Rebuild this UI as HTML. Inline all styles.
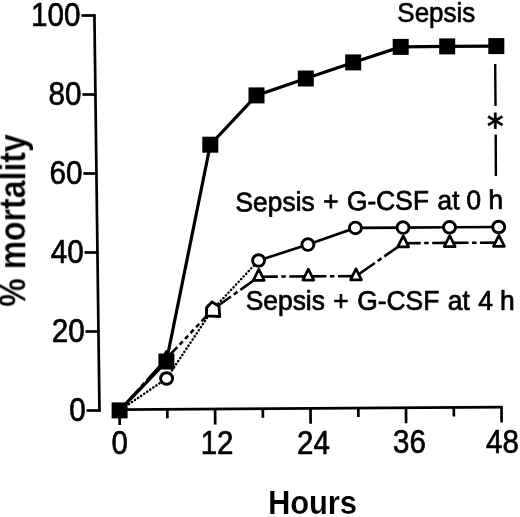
<!DOCTYPE html>
<html><head><meta charset="utf-8"><title>Mortality chart</title>
<style>html,body{margin:0;padding:0;background:#fff}svg{display:block}text{font-family:"Liberation Sans",sans-serif;fill:#000}</style></head><body>
<svg width="520" height="517" viewBox="0 0 520 517">
<defs><filter id="soft" x="0" y="0" width="520" height="517" filterUnits="userSpaceOnUse"><feGaussianBlur stdDeviation="0.5"/></filter></defs>
<rect width="520" height="517" fill="#fff"/>
<g filter="url(#soft)">
<g stroke="#000" fill="none" stroke-width="2.7" stroke-linecap="butt">
<path d="M94.4,14.3 L99.5,411.7"/>
<path d="M86.5,410.5 L100.5,410.5"/>
<path d="M85.5,331.5 L99.5,331.5"/>
<path d="M84.5,252.5 L98.5,252.5"/>
<path d="M83.4,173.5 L97.4,173.5"/>
<path d="M82.4,94.5 L96.4,94.5"/>
<path d="M81.4,15.5 L95.4,15.5"/>
<path d="M119.6,409.6 L502.8,407.1"/>
<path d="M119.6,409.6 L119.7,425.1"/>
<path d="M167.3,409.3 L167.4,418.3"/>
<path d="M215.1,409.0 L215.2,424.5"/>
<path d="M262.8,408.7 L262.9,417.7"/>
<path d="M310.5,408.3 L310.6,423.8"/>
<path d="M358.3,408.0 L358.4,417.0"/>
<path d="M406.0,407.7 L406.1,423.2"/>
<path d="M453.8,407.4 L453.9,416.4"/>
<path d="M501.5,407.1 L501.6,422.6"/>
</g>
<g stroke="#000" stroke-width="2.4" fill="none">
<path d="M495.2,64 L495.5,106"/><path d="M495.7,134.5 L495.9,176"/></g>
<g stroke="#000" fill="none" stroke-width="2.6">
<path stroke-width="2.5" stroke-linecap="round" stroke-dasharray="0.2 3.5" d="M119.6,410.4 L166.6,378.5 L212.4,309.8 L258.6,260.5"/>
<path d="M258.6,260.5 L307.9,244.6 L355.4,227.9 L403.0,227.6 L449.5,227.3 L498.7,227.0"/>
<path stroke-dasharray="29.1 3.5 4.5 3.5 29.1 0" d="M119.6,410.4 L166.4,358.7"/>
<path stroke-dasharray="15.8 3.5 4.5 3.5 4.5 3.5 4.5 3.5 4.5 3.5 15.8 0" d="M166.4,358.7 L212.4,309.8"/>
<path stroke-dasharray="22.8 3.5 4.5 3.5 22.8 0" d="M212.4,309.8 L258.8,276.7"/>
<path stroke-dasharray="19.0 3.5 4.5 3.5 19.0 0" d="M258.8,276.7 L308.3,276.4"/>
<path stroke-dasharray="18.1 3.5 4.5 3.5 18.1 0" d="M308.3,276.4 L356.0,276.1"/>
<path stroke-dasharray="23.0 3.5 4.5 3.5 23.0 0" d="M356.0,276.1 L403.2,243.2"/>
<path stroke-dasharray="17.5 3.5 4.5 3.5 17.5 0" d="M403.2,243.2 L449.7,242.9"/>
<path stroke-dasharray="18.8 3.5 4.5 3.5 18.8 0" d="M449.7,242.9 L498.9,242.6"/>
</g>
<g stroke="#000" fill="none" stroke-width="3.2">
<path d="M119.6,410.4 L166.4,361.5 L210.3,144.7 L256.5,95.4 L305.8,78.5 L353.2,62.4 L400.7,46.9 L447.2,46.4 L496.3,46.1"/>
</g>
<g stroke="#000" fill="#fff" stroke-width="2.7" stroke-linejoin="round">
<path d="M166.4,351.4 L171.9,362.4 L160.9,362.4 Z"/>
<path d="M212.4,302.5 L217.9,313.5 L206.9,313.5 Z"/>
<path d="M258.8,269.4 L264.3,280.4 L253.3,280.4 Z"/>
<path d="M308.3,269.1 L313.8,280.1 L302.8,280.1 Z"/>
<path d="M356.0,268.8 L361.5,279.8 L350.5,279.8 Z"/>
<path d="M403.2,235.9 L408.7,246.9 L397.7,246.9 Z"/>
<path d="M449.7,235.6 L455.2,246.6 L444.2,246.6 Z"/>
<path d="M498.9,235.3 L504.4,246.3 L493.4,246.3 Z"/>
</g>
<g stroke="#000" fill="#fff" stroke-width="2.9">
<ellipse cx="166.6" cy="378.5" rx="6.0" ry="5.8"/>
<ellipse cx="212.4" cy="309.8" rx="6.0" ry="5.8"/>
<ellipse cx="258.6" cy="260.5" rx="6.0" ry="5.8"/>
<ellipse cx="307.9" cy="244.6" rx="6.0" ry="5.8"/>
<ellipse cx="355.4" cy="227.9" rx="6.0" ry="5.8"/>
<ellipse cx="403.0" cy="227.6" rx="6.0" ry="5.8"/>
<ellipse cx="449.5" cy="227.3" rx="6.0" ry="5.8"/>
<ellipse cx="498.7" cy="227.0" rx="6.0" ry="5.8"/>
</g>
<path d="M212,302 L219,306.3 L219.8,316.5 L206.4,315.8 L206.8,307.5 Z" stroke="#000" stroke-width="2.8" stroke-linejoin="round" fill="#fff"/>
<g fill="#000">
<rect x="111.6" y="402.4" width="16" height="16"/>
<rect x="158.4" y="353.5" width="16" height="16"/>
<rect x="202.3" y="136.7" width="16" height="16"/>
<rect x="248.5" y="87.4" width="16" height="16"/>
<rect x="297.8" y="70.5" width="16" height="16"/>
<rect x="345.2" y="54.4" width="16" height="16"/>
<rect x="392.7" y="38.9" width="16" height="16"/>
<rect x="439.2" y="38.4" width="16" height="16"/>
<rect x="488.3" y="38.1" width="16" height="16"/>
</g>
<text transform="translate(85.7,421.3) rotate(0) scale(1,1.11)" font-size="29.7" text-anchor="end" stroke="#000" stroke-width="0.6" >0</text>
<text transform="translate(84.7,342.3) rotate(0) scale(1,1.11)" font-size="29.7" text-anchor="end" stroke="#000" stroke-width="0.6" >20</text>
<text transform="translate(83.7,263.3) rotate(0) scale(1,1.11)" font-size="29.7" text-anchor="end" stroke="#000" stroke-width="0.6" >40</text>
<text transform="translate(82.6,184.3) rotate(0) scale(1,1.11)" font-size="29.7" text-anchor="end" stroke="#000" stroke-width="0.6" >60</text>
<text transform="translate(81.6,105.3) rotate(0) scale(1,1.11)" font-size="29.7" text-anchor="end" stroke="#000" stroke-width="0.6" >80</text>
<text transform="translate(80.6,26.3) rotate(0) scale(1,1.11)" font-size="29.7" text-anchor="end" stroke="#000" stroke-width="0.6" >100</text>
<text transform="translate(119.6,454.4) rotate(0) scale(1,1.11)" font-size="29.5" text-anchor="middle" stroke="#000" stroke-width="0.6" >0</text>
<text transform="translate(217.1,454.0) rotate(0) scale(1,1.11)" font-size="29.5" text-anchor="middle" stroke="#000" stroke-width="0.6" >12</text>
<text transform="translate(313.5,453.7) rotate(0) scale(1,1.11)" font-size="29.5" text-anchor="middle" stroke="#000" stroke-width="0.6" >24</text>
<text transform="translate(409.5,453.3) rotate(0) scale(1,1.11)" font-size="29.5" text-anchor="middle" stroke="#000" stroke-width="0.6" >36</text>
<text transform="translate(502.5,453.0) rotate(0) scale(1,1.11)" font-size="29.5" text-anchor="middle" stroke="#000" stroke-width="0.6" >48</text>
<text transform="translate(397.3,21.6) rotate(0) scale(1,1.06)" font-size="26" text-anchor="start" stroke="#000" stroke-width="0.6" >Sepsis</text>
<text transform="translate(235.5,211.4) rotate(-0.55) scale(1,1.02)" font-size="26.4" text-anchor="start" stroke="#000" stroke-width="0.7" word-spacing="1.1">Sepsis + G-CSF at <tspan dx="-1.4">0</tspan> <tspan dx="-1.2">h</tspan></text>
<text transform="translate(245.7,310.3) rotate(0) scale(1,1.04)" font-size="26.4" text-anchor="start" stroke="#000" stroke-width="0.7" word-spacing="1.1">Sepsis + G-CSF at 4 <tspan dx="-1.3">h</tspan></text>
<text x="495.2" y="138" text-anchor="middle" font-size="33" stroke="#000" stroke-width="0.9" style="font-family:'DejaVu Sans',sans-serif">*</text>
<text transform="translate(312.4,513.6) scale(1,1.06)" text-anchor="middle" font-size="31" font-weight="bold" letter-spacing="-0.2" stroke="#fff" stroke-width="0.15">Hours</text>
<text transform="translate(24.9,220.5) rotate(-90) scale(1,1.15)" text-anchor="middle" font-size="32" font-weight="bold" letter-spacing="0" stroke="#fff" stroke-width="0.15">% mortality</text>
</g>
</svg></body></html>
